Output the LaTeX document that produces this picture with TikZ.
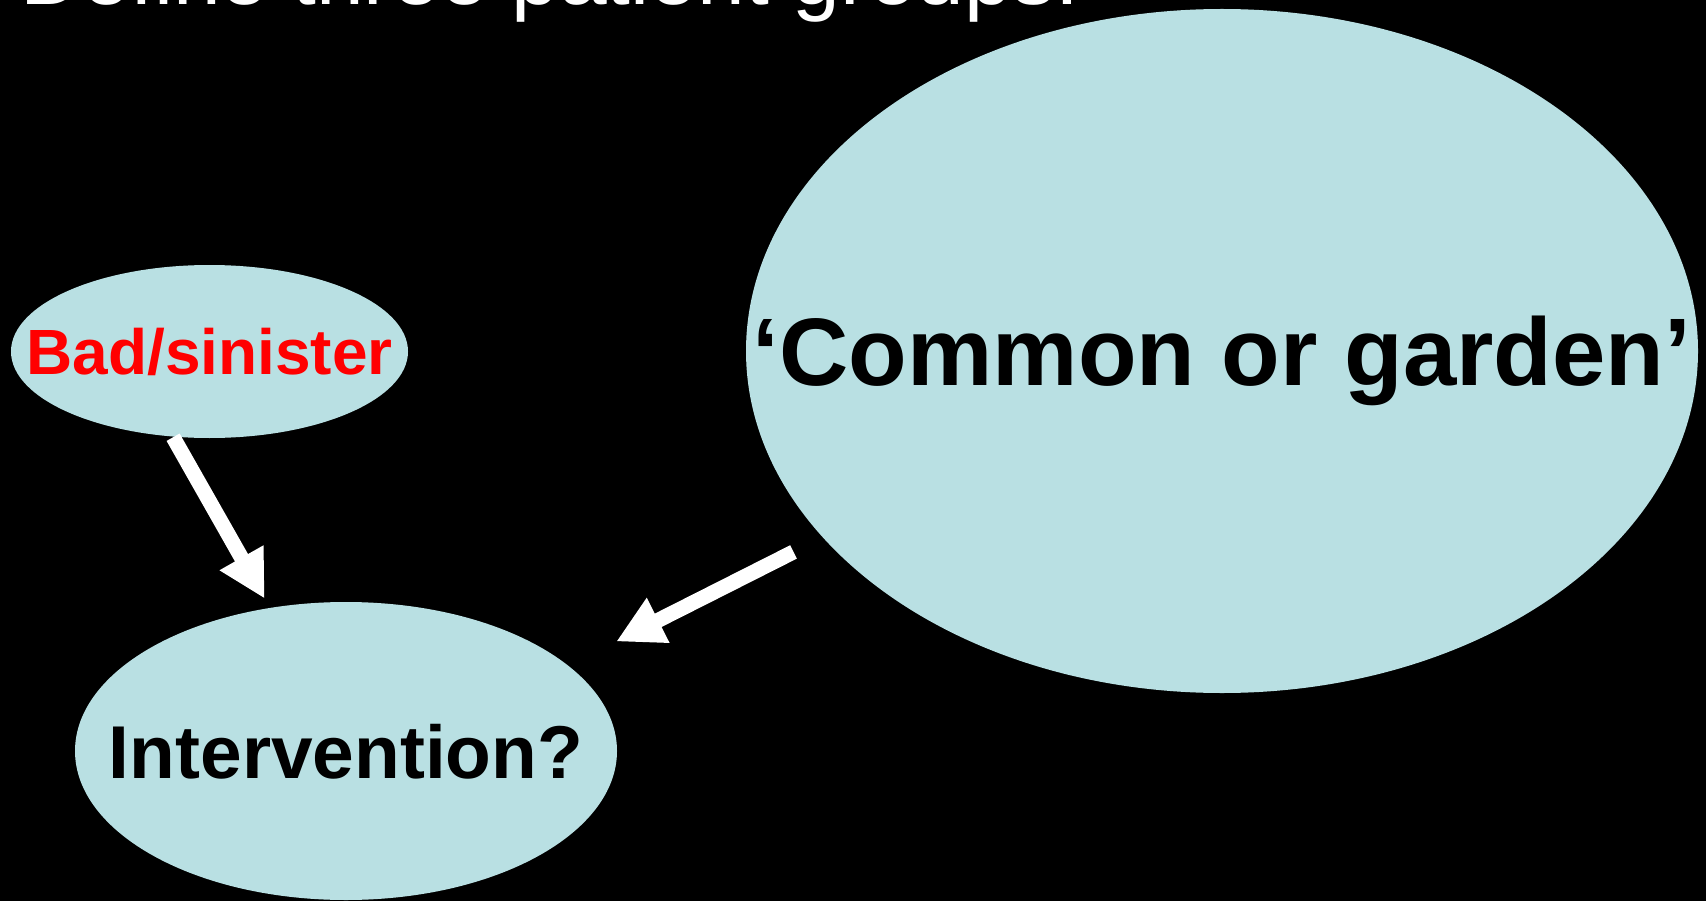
\documentclass[tikz,border=0pt]{standalone}
\usepackage{fontspec}
\setmainfont{Liberation Sans}
\usepackage{xcolor}
\usepackage{tikz}
\usetikzlibrary{shapes.geometric, arrows.meta}
\definecolor{SlideBlue}{RGB}{185,224,227}
\definecolor{SlideRed}{RGB}{255,0,0}

\begin{document}
\begin{tikzpicture}[
            grp/.style={ellipse, fill=SlideBlue, inner sep=0pt},
            lbl/.style={inner sep=0pt, text depth=0pt},
            arr/.style={-{Triangle[length=4.7mm, width=4.7mm]}, white,
                        line width=1.5mm}
          ]
          \useasboundingbox (0,0) rectangle (17.06,-9.01);
          \clip (0,0) rectangle (17.06,-9.01);
          \fill[black] (0,0) rectangle (17.06,-9.01);

          \node[anchor=base west, inner sep=0pt, text=white,
                font=\fontsize{24.4}{29}\selectfont] (title) at (0.2,-0.05)
                {Define three patient groups:};

          \node[grp, minimum width=3.97cm, minimum height=1.73cm] (bad) at (2.095,-3.515) {};
          \node[grp, minimum width=5.42cm, minimum height=2.98cm] (int) at (3.46,-7.51) {};
          \node[grp, minimum width=9.52cm, minimum height=6.84cm] (cog) at (12.22,-3.51) {};

          \node[lbl, text=SlideRed, font=\bfseries\fontsize{18.2}{22}\selectfont]
                (badtxt) at (bad) {Bad/sinister};
          \node[lbl, font=\bfseries\fontsize{21.3}{26}\selectfont]
                (inttxt) at (int) {Intervention?};
          \node[lbl, font=\bfseries\fontsize{27.3}{33}\selectfont]
                (cogtxt) at (cog) {‘Common or garden’};

          \draw[arr, shorten >=0.1cm] (bad.247) -- (int.118);
          \draw[arr, shorten <=0.32cm, shorten >=0.53cm] (cog.205) -- (int.21);
        \end{tikzpicture}
\end{document}
